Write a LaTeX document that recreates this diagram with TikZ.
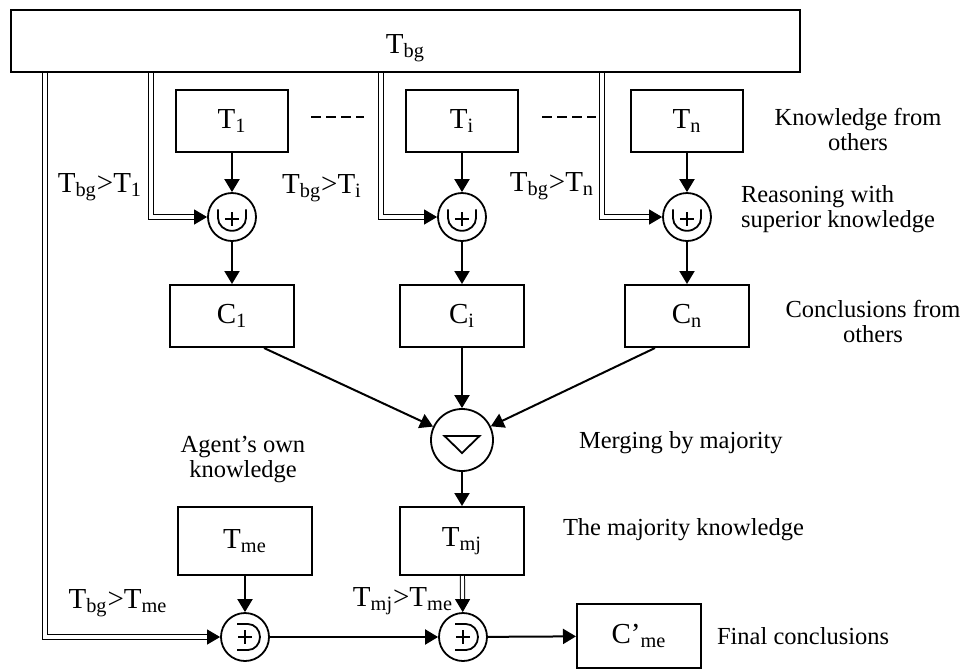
\documentclass[tikz,border=0pt]{standalone}
\usepackage{fontspec}
\setmainfont{Liberation Serif}
\usetikzlibrary{positioning,calc,arrows.meta}

\newcommand{\kfont}{\fontsize{14.5}{16}\selectfont}
\newcommand{\capfont}{\fontsize{12.25}{12.5}\selectfont}

\tikzset{
	kbox/.style={draw, line width=1pt, inner sep=0pt, minimum width=56pt, minimum height=31pt, font=\kfont},
	cbox/.style={kbox, minimum width=62pt},
	opnode/.style={circle, draw, line width=0.9pt, inner sep=0pt, minimum size=24pt},
	% reasoning with superior knowledge (cup with plus)
	uplusop/.style={opnode, path picture={
		\begin{scope}[shift={(path picture bounding box.center)}, line width=0.9pt]
			\draw (-7pt,3.8pt) -- (-7pt,-0.5pt) arc (180:360:7pt and 6.4pt) -- (7pt,3.8pt);
			\draw (-3.5pt,-1pt) -- (3.5pt,-1pt) (0pt,2.5pt) -- (0pt,-4.5pt);
		\end{scope}}},
	% revision by the preferred theory (D with plus)
	dplusop/.style={opnode, path picture={
		\begin{scope}[shift={(path picture bounding box.center)}, line width=0.9pt]
			\draw (-4pt,6.5pt) -- (1.5pt,6.5pt) arc (90:-90:6pt and 6.5pt) -- (-4pt,-6.5pt);
			\draw (-3.5pt,0pt) -- (3.5pt,0pt) (0pt,3.5pt) -- (0pt,-3.5pt);
		\end{scope}}},
	% merging by majority
	mergeop/.style={opnode, minimum size=31pt, path picture={
		\draw[line width=0.9pt, shift={(path picture bounding box.center)}]
			(-8.75pt,2pt) -- (8.75pt,2pt) -- (0pt,-6.5pt) -- cycle;}},
	supline/.style={double, double distance=1.6pt, line width=0.5pt},
	dashline/.style={line width=1pt, dash pattern=on 5pt off 2.5pt},
	lbl/.style={inner sep=0pt, font=\kfont},
	captext/.style={inner sep=0pt, font=\capfont}
}

\begin{document}
\begin{tikzpicture}[x=0.5pt, y=-0.5pt, line width=1pt, >={Triangle[length=6.5pt,width=7.5pt]}]
	\useasboundingbox (0,0) rectangle (965,671);

	\node[kbox, minimum width=394.5pt, text height=15.5pt, text depth=3pt] (bg) at (405.5,41) {T\textsubscript{bg}};

	% theories of the other agents
	\node[kbox] (T1) at (232,121) {T\textsubscript{1}};
	\node[kbox] (Ti) at (462,121) {T\textsubscript{i}};
	\node[kbox] (Tn) at (687,121) {T\textsubscript{n}};
	\draw[dashline, shorten <=11pt, shorten >=20.5pt] ([yshift=2pt]T1.east) -- ([yshift=2pt]Ti.west);
	\draw[dashline, shorten <=11.5pt, shorten >=17pt] ([yshift=2pt]Ti.east) -- ([yshift=2pt]Tn.west);

	\node[uplusop] (U1) at (232,217) {};
	\node[uplusop] (Ui) at (462,217) {};
	\node[uplusop] (Un) at (687,217) {};

	\node[cbox] (C1) at (232,316) {C\textsubscript{1}};
	\node[cbox] (Ci) at (462,316) {C\textsubscript{i}};
	\node[cbox] (Cn) at (687,316) {C\textsubscript{n}};

	\node[mergeop] (M) at (462,440) {};

	% own and majority theories
	\node[kbox, minimum width=67pt, minimum height=34pt] (Tme) at (245,541) {T\textsubscript{me}};
	\node[kbox, minimum width=62pt, minimum height=34pt] (Tmj) at (462,541) {T\textsubscript{mj}};

	\node[dplusop] (D1) at (245,637) {};
	\node[dplusop] (D2) at (463,637) {};
	\node[kbox, minimum width=62pt, minimum height=32pt] (Cme) at (639,636) {C’\textsubscript{me}};

	% preference labels
	\node[lbl] (p1) at (100,187) {T\textsubscript{bg}>T\textsubscript{1}};
	\node[lbl] (pi) at (322,188) {T\textsubscript{bg}>T\textsubscript{i}};
	\node[lbl] (pn) at (552,186) {T\textsubscript{bg}>T\textsubscript{n}};
	\node[lbl] (pme) at (118,603) {T\textsubscript{bg}>T\textsubscript{me}};
	\node[lbl] (pmj) at (403,601) {T\textsubscript{mj}>T\textsubscript{me}};

	% captions on the right
	\node[captext, align=center] (kfo) at (858,129) {Knowledge from\\others};
	\node[captext, align=left, anchor=west] (rsk) at (740,209) {Reasoning with\\superior knowledge};
	\node[captext, align=center] (cfo) at (873,321) {Conclusions from\\others};
	\node[captext, anchor=west] (mbm) at (578,443) {Merging by majority};
	\node[captext, align=center] (aok) at (243,459) {Agent’s own\\knowledge};
	\node[captext, anchor=west] (tmk) at (562,530) {The majority knowledge};
	\node[captext, right=7pt of Cme] (fc) {Final conclusions};

	\path[->]
	(T1) edge (U1)
	(Ti) edge (Ui)
	(Tn) edge (Un)
	(U1) edge (C1)
	(Ui) edge (Ci)
	(Un) edge (Cn)
	([xshift=16pt]C1.south) edge (M)
	(Ci) edge (M)
	([xshift=-16pt]Cn.south) edge (M)
	(M) edge (Tmj)
	(Tme) edge (D1)
	(D1) edge (D2)
	(D2) edge (Cme);

	% superior knowledge lines
	\draw[supline, ->] ([xshift=17.5pt]bg.south west) |- (D1);
	\draw[supline, ->] ([xshift=70.5pt]bg.south west) |- (U1);
	\draw[supline, ->] ([xshift=185.5pt]bg.south west) |- (Ui);
	\draw[supline, ->] ([xshift=296pt]bg.south west) |- (Un);
	\draw[supline, ->] (Tmj) -- (D2);
\end{tikzpicture}
\end{document}
